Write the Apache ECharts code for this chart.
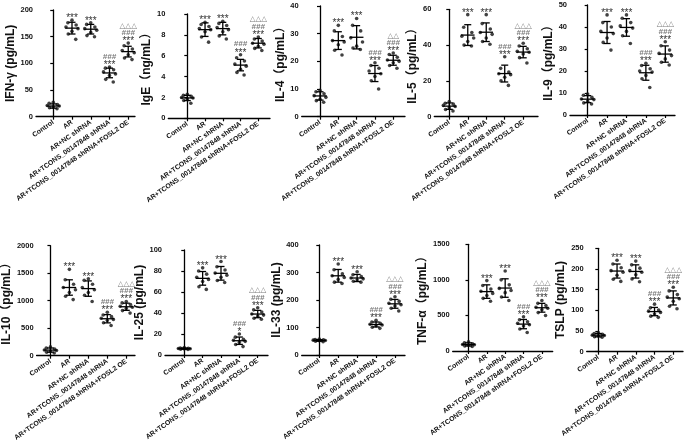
<!DOCTYPE html>
<html><head><meta charset="utf-8">
<script src="https://cdn.jsdelivr.net/npm/echarts@6/dist/echarts.min.js"></script>
<style>html,body{margin:0;padding:0;background:#fff}#c{width:685px;height:448px}</style>
</head><body><div id="c"></div>
<script>
const categories = ['Control','AR','AR+NC shRNA','AR+TCONS_00147848 shRNA','AR+TCONS_00147848 shRNA+FOSL2 OE'];

// ---- IFN-γ ----
const ifngValues = [[27,25,23,21,20,18,17,15],[181,176,172,168,165,160,155,145],[176,173,168,165,162,158,152,150],[93,91,88,84,80,77,70,65],[138,133,127,124,120,116,110,107]];
const ifngMean = [20,166,164,82,122];
const ifngSD = [4,11,9,9,10];
// ---- IgE ----
const igeValues = [[2.3,2.2,2.1,2.0,1.95,1.85,1.7,1.45],[9.2,9.0,8.8,8.6,8.5,8.3,7.8,7.3],[9.3,9.1,8.9,8.7,8.5,8.3,7.9,7.6],[6.1,5.8,5.5,5.2,5.0,4.7,4.4,4.15],[7.8,7.6,7.4,7.2,7.1,6.9,6.7,6.5]];
const igeMean = [1.95,8.5,8.6,5.1,7.2];
const igeSD = [0.25,0.65,0.6,0.55,0.45];
// ---- IL-4 ----
const il4Values = [[9.5,9.0,8.3,7.6,7.0,6.3,5.8,5.2],[33,31,29,27.5,27,26,24,22.3],[35.5,33,31,28.5,27,25.5,24.8,24.3],[19.5,18.5,17.5,16.5,15.5,14.5,13,10],[23,22.5,21.5,20.5,20,19.5,18.5,17.5]];
const il4Mean = [7.5,27.5,28.7,15.6,20.4];
const il4SD = [1.5,3.2,4.2,2.9,1.8];
// ---- IL-5 ----
const il5Values = [[8.5,7.5,7,6.3,5.7,5,4,3.2],[57,50,47,45,44,42,40,39.5],[57,52,49,47,46,44,42,40.5],[33.5,27,25,24,23.5,22,20,17.5],[41,39.5,38,36.5,36,35,33,30]];
const il5Mean = [5.9,45.6,47.2,24.1,36.1];
const il5SD = [1.8,5.8,5.2,4.7,3.2];
// ---- IL-9 ----
const il9Values = [[9.5,9,8,7.3,7,6.2,5.5,5],[45.5,42,40,38,37,35,33,29.5],[45.5,44,42,40.5,39.5,38,36,32.5],[23.5,22.5,21,20,19.5,18,16.5,12.5],[33.3,31.5,29.5,28,27,25.5,24,22.7]];
const il9Mean = [7.2,37.5,39.8,19.2,27.7];
const il9SD = [1.6,5,4,3.4,3.7];
// ---- IL-10 ----
const il10Values = [[160,140,120,105,95,80,65,50],[1570,1380,1300,1240,1200,1150,1080,1020],[1400,1370,1300,1240,1200,1150,1100,985],[790,740,710,680,660,640,600,550],[985,960,930,900,880,860,820,775]];
const il10Mean = [102,1240,1220,672,890];
const il10SD = [38,140,140,75,65];
// ---- IL-25 ----
const il25Values = [[7,6.7,6.4,6.2,6,5.8,5.5,5.2],[83,80,77,74,72,70,65,62.5],[89,84,81,78,76,74,71,69],[20,17,15,14,13,12,10,8],[45,43,41,39,38,37,35,34]];
const il25Mean = [6.1,73,77.8,13.6,39];
const il25SD = [0.6,6.5,6.5,3.5,3.5];
// ---- IL-33 ----
const il33Values = [[58,56,55,54,53,52,50,48],[331,310,295,288,282,275,265,260],[303,292,285,280,277,273,268,265],[126,120,115,112,109,106,101,97],[212,203,195,188,183,178,170,160]];
const il33Mean = [53,288,280,111,186];
const il33SD = [3,23,13,9,16];
// ---- TNF-α ----
const tnfValues = [[130,115,100,92,88,80,72,65],[990,920,870,840,810,780,740,700],[1125,1000,930,880,850,820,760,710],[480,440,410,390,370,350,310,260],[710,670,640,615,600,580,540,500]];
const tnfMean = [93,835,885,378,608];
const tnfSD = [22,95,130,65,62];
// ---- TSLP ----
const tslpValues = [[46,44,42,40,39,38,36,35],[221,212,203,196,192,185,175,170],[219,210,202,196,192,186,176,169],[115,106,101,98,95,91,86,83],[156,147,138,132,128,122,110,104]];
const tslpMean = [40,195,194,97,130];
const tslpSD = [4,17,16,10,17];

// significance marks
const starStd = ['','***','***','***','***'];
const starIL25 = ['','***','***','*','***'];
const hashStd = ['','','','###','###'];
const triStd = ['','','','','△△△'];
const triIL4 = ['','','','','△△'];

// y axis titles and ticks
const titles = ['IFN-γ (pg/mL)','IgE（ng/mL）','IL-4（pg/mL）','IL-5（pg/mL）','IL-9（pg/mL）','IL-10（pg/mL）','IL-25 (pg/mL)','IL-33 (pg/mL)','TNF-α（pg/mL）','TSLP (pg/mL)'];
const yMax = [200,10,40,60,50,2000,100,400,1500,250];
const yInterval = [50,2,10,20,10,500,20,100,500,50];

const panels = [
  [ifngValues,ifngMean,ifngSD,starStd,hashStd,triStd],
  [igeValues,igeMean,igeSD,starStd,hashStd,triStd],
  [il4Values,il4Mean,il4SD,starStd,hashStd,triIL4],
  [il5Values,il5Mean,il5SD,starStd,hashStd,triStd],
  [il9Values,il9Mean,il9SD,starStd,hashStd,triStd],
  [il10Values,il10Mean,il10SD,starStd,hashStd,triStd],
  [il25Values,il25Mean,il25SD,starIL25,hashStd,triStd],
  [il33Values,il33Mean,il33SD,starStd,hashStd,triStd],
  [tnfValues,tnfMean,tnfSD,starStd,hashStd,triStd],
  [tslpValues,tslpMean,tslpSD,starStd,hashStd,triStd]
];

// layout (pixels / axis extents)
const layout = [
  {l:36,t:10,w:99,h:106.7,xmin:-0.92,xmax:4.36,gap:16},
  {l:168.3,t:14,w:101.7,h:104.3,xmin:-1.07,xmax:4.66,gap:14},
  {l:301.7,t:6,w:103.3,h:110.7,xmin:-1.0,xmax:4.64,gap:13.4},
  {l:434.3,t:9.3,w:103.7,h:107.4,xmin:-0.81,xmax:4.8,gap:16},
  {l:570,t:5,w:105,h:110,xmin:-0.91,xmax:4.5,gap:15},
  {l:33.3,t:245.7,w:101.7,h:110,xmin:-0.73,xmax:4.46,gap:18.3},
  {l:165,t:250,w:103,h:105,xmin:-1.05,xmax:4.56,gap:13.3},
  {l:301.7,t:245,w:103.3,h:110,xmin:-0.93,xmax:4.53,gap:16.7},
  {l:452.7,t:244.3,w:100,h:106.7,xmin:-0.86,xmax:4.59,gap:22.7},
  {l:586.7,t:248.3,w:96.3,h:103.4,xmin:-0.62,xmax:4.52,gap:20}
];
const jitter = [0,-0.22,0.22,-0.32,0.32,0,-0.2,0.2];
const FF = '"Liberation Sans", Arial, "Noto Sans CJK SC", sans-serif';

function meanSdRender(params, api){
  const x = api.value(0), m = api.value(1), s = api.value(2);
  const c = api.coord([x,m]), t = api.coord([x,m+s]), b = api.coord([x,m-s]);
  const st = {stroke:'#000', lineWidth:1.3};
  return {type:'group', children:[
    {type:'line', shape:{x1:c[0]-6.8,y1:c[1],x2:c[0]+6.8,y2:c[1]}, style:st},
    {type:'line', shape:{x1:c[0],y1:t[1],x2:c[0],y2:b[1]}, style:st},
    {type:'line', shape:{x1:c[0]-3.5,y1:t[1],x2:c[0]+3.5,y2:t[1]}, style:st},
    {type:'line', shape:{x1:c[0]-3.5,y1:b[1],x2:c[0]+3.5,y2:b[1]}, style:st}
  ]};
}
const annSlots = [
  {dy:3.2, font:'normal normal 10px '+FF, fill:'#333'},
  {dy:-6.4, font:'italic bold 8px '+FF, fill:'#7a7a7a'},
  {dy:-13.4, font:'normal normal 7.5px "DejaVu Sans", sans-serif', fill:'#7a7a7a'}
];
function annRender(star, hash, tri){
  return function(params, api){
    const i = params.dataIndex;
    const p = api.coord([api.value(0), api.value(1)]);
    const texts = [star[i], hash[i], tri[i]];
    const ch = [];
    texts.forEach(function(t, k){
      if (!t) return;
      const S = annSlots[k];
      ch.push({type:'text', style:{x:p[0], y:p[1] + S.dy, text:t, font:S.font, fill:S.fill, align:'center', verticalAlign:'bottom'}});
    });
    return {type:'group', children:ch};
  };
}

const grid=[], xAxis=[], yAxis=[], series=[];
panels.forEach(function(P, i){
  const L = layout[i];
  const vals=P[0], mean=P[1], sd=P[2];
  grid.push({left:L.l, top:L.t, width:L.w, height:L.h, containLabel:false});
  xAxis.push({gridIndex:i, type:'value', min:L.xmin, max:L.xmax, splitLine:{show:false},
    axisLine:{show:true, onZero:false, lineStyle:{color:'#000', width:1.3}},
    axisTick:{show:true, customValues:[0,1,2,3,4], length:3, lineStyle:{color:'#000', width:1.2}},
    axisLabel:{show:true, customValues:[0,1,2,3,4], formatter:function(v){return categories[Math.round(v)];},
      rotate:35, fontSize:6.9, fontWeight:'bold', color:'#111', margin:5, fontFamily:FF}
  });
  yAxis.push({gridIndex:i, type:'value', min:0, max:yMax[i], interval:yInterval[i],
    name:titles[i], nameLocation:'middle', nameGap:L.gap,
    nameTextStyle:{fontSize:12, fontWeight:'bold', color:'#111', fontFamily:FF},
    axisLine:{show:true, lineStyle:{color:'#000', width:1.3}},
    axisTick:{show:true, length:3, lineStyle:{color:'#000', width:1.2}},
    axisLabel:{fontSize:7.5, fontWeight:'bold', color:'#111', margin:3, fontFamily:FF,
      formatter:function(v){return String(v);}},
    splitLine:{show:false}
  });
  const pts=[], ms=[], tops=[];
  vals.forEach(function(g, gi){
    g.forEach(function(v, j){ pts.push([gi + jitter[j % jitter.length], v]); });
    ms.push([gi, mean[gi], sd[gi]]);
    tops.push([gi, Math.max(Math.max.apply(null, g), mean[gi] + sd[gi])]);
  });
  series.push({type:'scatter', xAxisIndex:i, yAxisIndex:i, data:pts, symbolSize:3.6,
    itemStyle:{color:'#111'}, silent:true, z:2});
  series.push({type:'custom', xAxisIndex:i, yAxisIndex:i, data:ms, renderItem:meanSdRender,
    encode:{x:0, y:1}, silent:true, z:3, clip:false});
  series.push({type:'custom', xAxisIndex:i, yAxisIndex:i, data:tops, renderItem:annRender(P[3],P[4],P[5]),
    encode:{x:0, y:1}, silent:true, z:4, clip:false});
});

const chart = echarts.init(document.getElementById('c'), null, {renderer:'canvas'});
chart.setOption({animation:false, backgroundColor:'#fff', grid:grid, xAxis:xAxis, yAxis:yAxis, series:series});
</script></body></html>
